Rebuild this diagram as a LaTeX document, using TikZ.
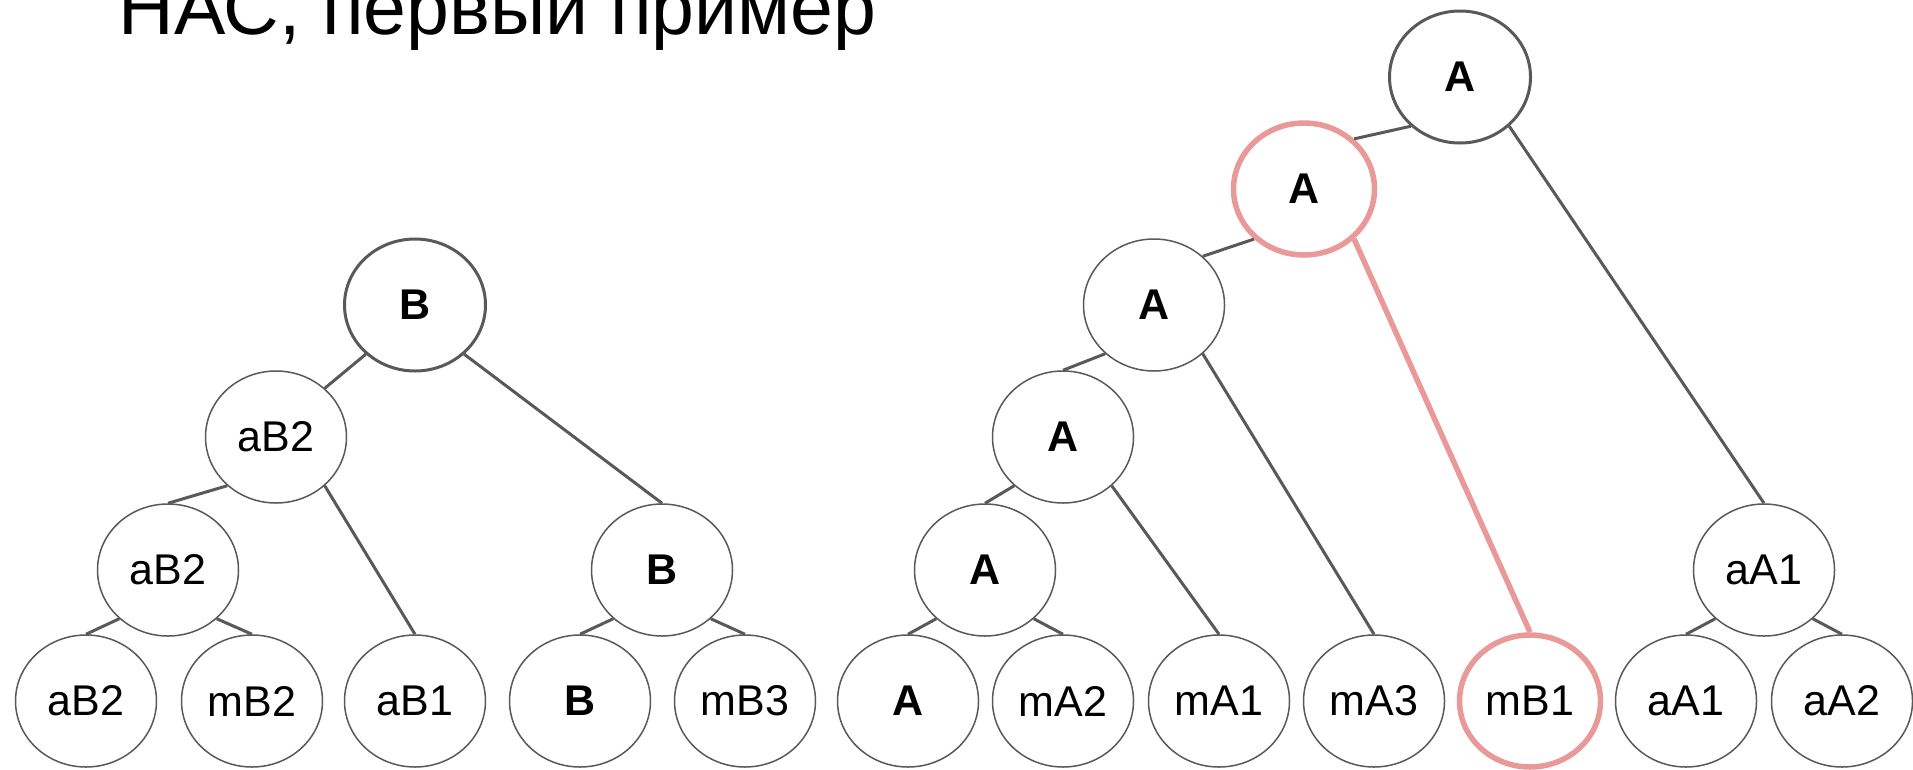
\documentclass[tikz,border=0pt]{standalone}
\usepackage{fontspec}
\setmainfont{Liberation Sans}
\usetikzlibrary{shapes.geometric}
\definecolor{linegray}{HTML}{595959}
\definecolor{markpink}{HTML}{EA9999}
\begin{document}
\begin{tikzpicture}[x=1pt,y=-1pt]
        \tikzstyle{state}=[ellipse,draw=linegray,line width=1.5pt,fill=white,minimum width=141pt,minimum height=132pt,inner sep=0pt,font=\fontsize{43}{50}\selectfont]
        \tikzstyle{root}=[state,line width=3pt]
        \tikzstyle{marked}=[state,draw=markpink,line width=5.5pt]
        \tikzstyle{edge}=[draw=linegray,line width=3pt]
        \tikzstyle{markededge}=[draw=markpink,line width=5.5pt]
        \useasboundingbox (0,0) rectangle (1913,769);
        \node [anchor=base west,font=\fontsize{77}{90}\selectfont] (title) at (115,34) {НАС, первый пример};
       \begin{scope}
         \node [root] (b0) at (415,305) {\bfseries B};
         \node [state] (ab2) at (276,437) {aB2};
         \node [state] (ab2l) at (168,570) {aB2};
         \node [state] (b1) at (662,570) {\bfseries B};
         \node [state] (ab2b) at (86,701) {aB2};
         \node [state] (mb2) at (252,701) {mB2};
         \node [state] (ab1) at (415,701) {aB1};
         \node [state] (b2) at (580,701) {\bfseries B};
         \node [state] (mb3) at (745,701) {mB3};
         \path[edge] (b0.225) edge (ab2.45);
         \path[edge] (b0.315) edge (b1.north);
         \path[edge] (ab2.225) edge (ab2l.north);
         \path[edge] (ab2.315) edge (ab1.north);
         \path[edge] (ab2l.225) edge (ab2b.north);
         \path[edge] (ab2l.315) edge (mb2.north);
         \path[edge] (b1.225) edge (b2.north);
         \path[edge] (b1.315) edge (mb3.north);
        \end{scope}
       \begin{scope}
         \node [root] (a0) at (1460,77) {\bfseries A};
         \node [marked] (a1) at (1304,189) {\bfseries A};
         \node [state] (a2) at (1154,305) {\bfseries A};
         \node [state] (a3) at (1063,437) {\bfseries A};
         \node [state] (a4) at (985,570) {\bfseries A};
         \node [state] (aa1) at (1764,570) {aA1};
         \node [state] (a5) at (908,701) {\bfseries A};
         \node [state] (ma2) at (1063,701) {mA2};
         \node [state] (ma1) at (1219,701) {mA1};
         \node [state] (ma3) at (1374,701) {mA3};
         \node [marked] (mb1) at (1530,701) {mB1};
         \node [state] (aa1b) at (1686,701) {aA1};
         \node [state] (aa2) at (1842,701) {aA2};
         \path[edge] (a0.225) edge (a1.45);
         \path[edge] (a0.315) edge (aa1.north);
         \path[edge] (a1.225) edge (a2.45);
         \path[markededge] (a1.315) edge (mb1.north);
         \path[edge] (a2.225) edge (a3.north);
         \path[edge] (a2.315) edge (ma3.north);
         \path[edge] (a3.225) edge (a4.north);
         \path[edge] (a3.315) edge (ma1.north);
         \path[edge] (a4.225) edge (a5.north);
         \path[edge] (a4.315) edge (ma2.north);
         \path[edge] (aa1.225) edge (aa1b.north);
         \path[edge] (aa1.315) edge (aa2.north);
        \end{scope}
      \end{tikzpicture}
\end{document}
